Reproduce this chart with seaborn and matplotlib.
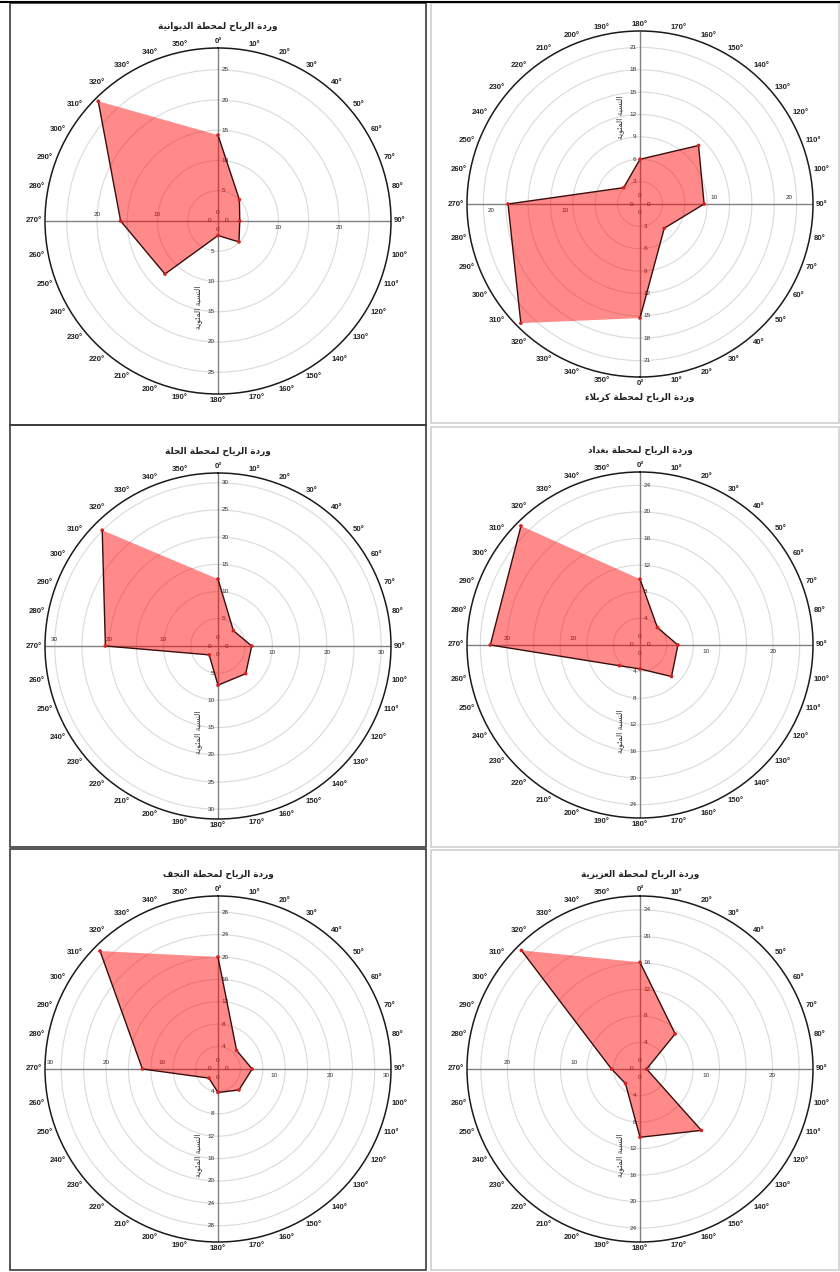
import numpy as np
import matplotlib
matplotlib.use("Agg")
import matplotlib.pyplot as plt
from matplotlib.patches import Rectangle
import seaborn as sns

# wind directions (degrees) and percentage frequency per station
directions = [0, 45, 90, 135, 180, 225, 270, 315]

diwaniya = [14.2, 5.0, 3.6, 4.9, 2.4, 12.4, 16.1, 28.0]
karbala = [15.3, 4.6, 8.6, 11.1, 6.0, 3.1, 17.7, 22.6]
hilla = [12.3, 4.0, 6.2, 7.2, 7.2, 2.3, 20.7, 30.1]
baghdad = [9.9, 3.7, 5.7, 6.7, 3.6, 4.4, 22.5, 25.3]
najaf = [20.0, 4.7, 6.1, 5.3, 4.2, 2.3, 13.5, 29.8]
aziziya = [16.1, 7.5, 1.0, 13.1, 10.3, 3.1, 4.3, 25.3]

titles = [
    "وردة الرياح لمحطة الديوانية",
    "وردة الرياح لمحطة كربلاء",
    "وردة الرياح لمحطة الحلة",
    "وردة الرياح لمحطة بغداد",
    "وردة الرياح لمحطة النجف",
    "وردة الرياح لمحطة العزيزية",
]
axis_label = "النسبة المئوية"
angle_ticks = list(range(0, 360, 10))

# radial axis: outer radius, ring step, labelled horizontal values
r_max = [28.6, 23.2, 31.8, 26.0, 30.9, 26.1]
ring_step = [5, 3, 5, 4, 4, 4]
h_labels = [[10, 20], [10, 20], [10, 20, 30], [10, 20], [10, 20, 30], [10, 20]]


# --- tiny arabic shaper (matplotlib has no bidi / joining support) ---
FORMS = {
    "ء": (0xFE80, 1), "ا": (0xFE8D, 2), "ب": (0xFE8F, 4), "ة": (0xFE93, 2),
    "ت": (0xFE95, 4), "ج": (0xFE9D, 4), "ح": (0xFEA1, 4), "د": (0xFEA9, 2),
    "ر": (0xFEAD, 2), "ز": (0xFEAF, 2), "س": (0xFEB1, 4), "ط": (0xFEC1, 4),
    "ع": (0xFEC9, 4), "غ": (0xFECD, 4), "ف": (0xFED1, 4), "ق": (0xFED5, 4),
    "ك": (0xFED9, 4), "ل": (0xFEDD, 4), "م": (0xFEE1, 4), "ن": (0xFEE5, 4),
    "ه": (0xFEE9, 4), "و": (0xFEED, 2), "ي": (0xFEF1, 4), "ئ": (0xFE89, 4),
}


def shape(text):
    out = []
    i = 0
    while i < len(text):
        ch = text[i]
        if ch not in FORMS:
            out.append(ch)
            i += 1
            continue
        prev = text[i - 1] if i > 0 else ""
        joins_prev = prev in FORMS and FORMS[prev][1] == 4
        if ch == "ل" and i + 1 < len(text) and text[i + 1] == "ا":
            out.append(chr(0xFEFC if joins_prev else 0xFEFB))
            i += 2
            continue
        nxt = text[i + 1] if i + 1 < len(text) else ""
        base, nforms = FORMS[ch]
        joins_next = nforms == 4 and nxt in FORMS
        if nforms == 1:
            form = 0
        elif joins_prev and joins_next:
            form = 3
        elif joins_prev:
            form = 1
        elif joins_next:
            form = 2
        else:
            form = 0
        out.append(chr(base + form))
        i += 1
    return "".join(reversed(out))


sns.set_theme(style="white")
plt.rcParams["font.family"] = ["Liberation Sans", "DejaVu Sans"]

W, H = 840, 1272
fig = plt.figure(figsize=(W / 100, H / 100), dpi=100)
fig.patch.set_facecolor("white")

# panel frames (pixels: x0, y0, x1, y1)
frames = [(10, 3, 426, 425, "#3a3a3a"), (431, 3, 839, 423, "#cfcfcf"),
          (10, 425, 426, 847, "#3a3a3a"), (431, 427, 839, 847, "#cfcfcf"),
          (10, 849, 426, 1270, "#3a3a3a"), (431, 850, 839, 1270, "#cfcfcf")]
for x0, y0, x1, y1, c in frames:
    fig.add_artist(Rectangle((x0 / W, 1 - y1 / H), (x1 - x0) / W, (y1 - y0) / H,
                             transform=fig.transFigure, fill=False, ec=c, lw=1.2))
fig.add_artist(plt.Line2D([0, 1], [1 - 1.5 / H, 1 - 1.5 / H], color="black", lw=1.5))

centers = [(218, 221), (640, 204), (218, 646), (640, 645), (218, 1069), (640, 1069)]
title_y = [26, 397, 451, 450, 874, 874]
flipped = [False, True, False, False, False, False]
stations = [diwaniya, karbala, hilla, baghdad, najaf, aziziya]
R = 173

for k, values in enumerate(stations):
    cx, cy = centers[k]
    flip = flipped[k]
    ax = fig.add_axes([(cx - R) / W, 1 - (cy + R) / H, 2 * R / W, 2 * R / H],
                      projection="polar")
    ax.set_facecolor("white")
    ax.set_theta_zero_location("S" if flip else "N")
    ax.set_theta_direction(1 if flip else -1)
    sy = -1 if flip else 1

    rings = list(range(ring_step[k], int(r_max[k]) + 1, ring_step[k]))
    rings = [r for r in rings if r < r_max[k] - 0.5]
    ax.set_yticks(rings)
    ax.set_yticklabels([])
    ax.yaxis.grid(True, color="#dadada", lw=0.8)
    ax.xaxis.grid(False)
    ax.set_xticks(np.deg2rad(angle_ticks))
    ax.set_xticklabels([])
    ax.tick_params(axis="both", length=0)
    ax.spines["polar"].set_color("#1a1a1a")
    ax.spines["polar"].set_linewidth(1.1)
    ax.vlines(np.deg2rad([0, 90, 180, 270]), 0, r_max[k], color="#808080", lw=1.0, zorder=1)

    # compass labels anchored just outside the rim
    for d in angle_ticks:
        sx, syy = np.sin(np.deg2rad(d)), sy * np.cos(np.deg2rad(d))
        ha = "left" if sx > 0.15 else ("right" if sx < -0.15 else "center")
        va = "bottom" if syy > 0.15 else ("top" if syy < -0.15 else "center")
        ax.annotate(f"{d}°", (np.deg2rad(d), r_max[k]), xytext=(2.2 * sx, 2.2 * syy),
                    textcoords="offset points", ha=ha, va=va, fontsize=5.6,
                    fontweight="bold", color="#222222", annotation_clip=False)

    # radial labels along the cross
    lab = dict(fontsize=4.6, color="#333333", zorder=2, textcoords="offset points")
    for r in rings:
        ax.annotate(str(r), (0, r), xytext=(2.5, 0), ha="left", va="center", **lab)
        ax.annotate(str(r), (np.pi, r), xytext=(-2.5, 0), ha="right", va="center", **lab)
    for r in h_labels[k]:
        ax.annotate(str(r), (np.pi / 2, r), xytext=(0, -3 * sy), ha="center",
                    va="top" if not flip else "bottom", **lab)
        ax.annotate(str(r), (3 * np.pi / 2, r), xytext=(0, 3 * sy), ha="center",
                    va="bottom" if not flip else "top", **lab)
    for dx, dy in [(0, 6), (0, -6), (-6, 0), (6, 0)]:
        ax.annotate("0", (0, 0), xytext=(dx, dy), ha="center", va="center", **lab)

    theta = np.deg2rad(directions + [directions[0]])
    radius = values + [values[0]]
    ax.fill(theta, radius, color="#ff0000", alpha=0.46, lw=0, zorder=3)
    sns.lineplot(x=theta, y=radius, ax=ax, sort=False, color="#3a0d0d", lw=1.0, zorder=4)
    sns.scatterplot(x=np.deg2rad(directions), y=values, ax=ax, color="#d42020",
                    s=7, edgecolor="none", zorder=5)
    ax.set_xlabel("")
    ax.set_ylabel("")
    ax.set_ylim(0, r_max[k])

    ax.text(0.442, 0.75 if flip else 0.25, shape(axis_label), transform=ax.transAxes,
            rotation=90, ha="center", va="center", fontsize=5.5, color="#333333",
            family=["DejaVu Sans"], zorder=2)
    fig.text(cx / W, 1 - title_y[k] / H, shape(titles[k]), ha="center", va="center",
             fontsize=6.4, fontweight="bold", color="#222222", family=["DejaVu Sans"])

fig.savefig("out.png", dpi=100, facecolor="white")
